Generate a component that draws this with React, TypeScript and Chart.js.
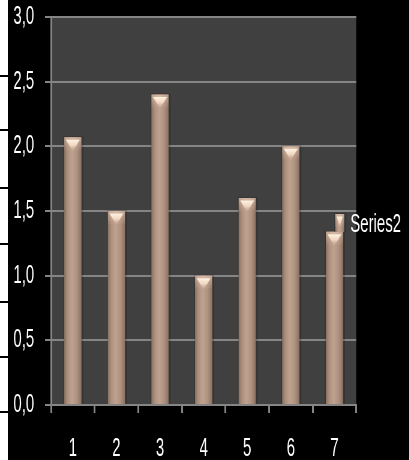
import React, { useEffect, useRef } from "react";
import { Chart, registerables } from "chart.js";

Chart.register(...registerables);

const categories = ["1", "2", "3", "4", "5", "6", "7"];
const series2 = [2.07, 1.5, 2.4, 1.0, 1.6, 2.0, 1.34];
const yTickLabels = ["0,0", "0,5", "1,0", "1,5", "2,0", "2,5", "3,0"];
const seriesName = "Series2";

// The reference uses a tall, narrow face; we draw in a wider canvas and squeeze it horizontally.
const SX = 0.6;
const VIEW_W = 409;
const VIEW_H = 460;
const CANVAS_W = Math.round(VIEW_W / SX);
const FONT_FAMILY = "'Liberation Sans', Arial, sans-serif";
const FONT_SIZE = 25;
const stripLines = [76, 130, 188, 244, 302, 357, 412];

function drawBar(ctx: CanvasRenderingContext2D, x: number, y: number, base: number, width: number) {
  const left = x - width / 2;
  const right = x + width / 2;
  const h = base - y;
  ctx.save();
  ctx.fillStyle = "rgba(0,0,0,0.18)";
  ctx.fillRect(left - 1.5, y - 1, width + 5, h + 1);
  const g = ctx.createLinearGradient(left, 0, right, 0);
  g.addColorStop(0, "#8a7162");
  g.addColorStop(0.2, "#ae927f");
  g.addColorStop(0.45, "#c0a290");
  g.addColorStop(0.75, "#ae917f");
  g.addColorStop(1, "#8b7263");
  ctx.fillStyle = g;
  ctx.fillRect(left, y, width, h);
  const capH = Math.min(14, h);
  const rim = ctx.createLinearGradient(0, y, 0, y + capH);
  rim.addColorStop(0, "rgba(235,205,185,0.55)");
  rim.addColorStop(1, "rgba(235,205,185,0)");
  ctx.fillStyle = rim;
  ctx.fillRect(left, y, width, capH);
  if (h > 6) {
    const tri = ctx.createLinearGradient(0, y + 2, 0, y + capH);
    tri.addColorStop(0, "#fff4e4");
    tri.addColorStop(0.5, "#f2d8c2");
    tri.addColorStop(1, "rgba(200,168,146,0.2)");
    ctx.fillStyle = tri;
    ctx.beginPath();
    ctx.moveTo(left + 2.5, y + 2.5);
    ctx.lineTo(right - 2.5, y + 2.5);
    ctx.lineTo(x, y + capH);
    ctx.closePath();
    ctx.fill();
  }
  ctx.restore();
}

const plotBgPlugin = {
  id: "plotBg",
  beforeDraw(chart: any) {
    const { ctx, chartArea, width, height } = chart;
    ctx.save();
    ctx.fillStyle = "#000000";
    ctx.fillRect(0, 0, width, height);
    ctx.fillStyle = "#404040";
    ctx.fillRect(chartArea.left, chartArea.top, chartArea.right - chartArea.left, chartArea.bottom - chartArea.top);
    ctx.restore();
  },
};

const barStylePlugin = {
  id: "barStyle",
  afterDatasetsDraw(chart: any) {
    const ctx = chart.ctx;
    const meta = chart.getDatasetMeta(0);
    meta.data.forEach((el: any) => {
      const p = el.getProps(["x", "y", "base", "width"], true);
      drawBar(ctx, p.x, p.y, p.base, p.width);
    });
  },
};

const customLegendPlugin = {
  id: "customLegend",
  afterDraw(chart: any) {
    const ctx = chart.ctx;
    const label = chart.data.datasets[0].label;
    const area = chart.chartArea;
    const cy = (area.top + area.bottom) / 2 + 14;
    const markerLeft = area.right - 21 / SX;
    const markerW = 9 / SX;
    ctx.save();
    drawBar(ctx, markerLeft + markerW / 2, cy - 11, cy + 7, markerW);
    ctx.fillStyle = "#ffffff";
    ctx.font = `${FONT_SIZE}px ${FONT_FAMILY}`;
    ctx.textBaseline = "middle";
    ctx.textAlign = "left";
    ctx.fillText(label, markerLeft + 15 / SX, cy);
    ctx.restore();
  },
};

export default function App() {
  const canvasRef = useRef<HTMLCanvasElement | null>(null);

  useEffect(() => {
    document.body.style.margin = "0";
    document.body.style.background = "#000";
    const canvas = canvasRef.current;
    if (!canvas) return;
    const chart = new Chart(canvas, {
      type: "bar",
      data: {
        labels: categories,
        datasets: [
          {
            label: seriesName,
            data: series2,
            backgroundColor: "#b09280",
            borderWidth: 0,
            barPercentage: 0.39,
            categoryPercentage: 1,
          },
        ],
      },
      options: {
        responsive: false,
        animation: false,
        devicePixelRatio: 1,
        layout: { padding: { left: 0, right: 53 / SX, top: 17, bottom: 0 } },
        plugins: {
          legend: { display: false },
          tooltip: { enabled: false },
        },
        scales: {
          x: {
            grid: {
              offset: true,
              drawOnChartArea: false,
              drawTicks: true,
              tickLength: 8,
              color: "#858585",
              lineWidth: 3,
            },
            border: { display: true, color: "#858585", width: 2 },
            ticks: {
              color: "#ffffff",
              font: { family: FONT_FAMILY, size: FONT_SIZE },
              padding: 21,
              maxRotation: 0,
            },
            afterFit(scale: any) {
              scale.height = 55;
              scale.paddingLeft = 0;
              scale.paddingRight = 0;
            },
          },
          y: {
            min: 0,
            max: 3,
            ticks: {
              stepSize: 0.5,
              color: "#ffffff",
              font: { family: FONT_FAMILY, size: FONT_SIZE },
              padding: 18,
              callback: (_v: any, i: number) => yTickLabels[i],
            },
            grid: {
              color: "#858585",
              lineWidth: 2,
              tickLength: 10,
            },
            border: { display: true, color: "#858585", width: 3 },
            afterFit(scale: any) {
              scale.width = 51 / SX;
              scale.paddingTop = 0;
              scale.paddingBottom = 0;
            },
          },
        },
      },
      plugins: [plotBgPlugin, barStylePlugin, customLegendPlugin],
    });
    return () => chart.destroy();
  }, []);

  return (
    <div style={{ position: "relative", width: VIEW_W, height: VIEW_H, background: "#000", overflow: "hidden" }}>
      <div style={{ width: CANVAS_W, height: VIEW_H, transform: `scaleX(${SX})`, transformOrigin: "0 0" }}>
        <canvas ref={canvasRef} width={CANVAS_W} height={VIEW_H} style={{ display: "block" }} />
      </div>
      <div style={{ position: "absolute", left: 0, top: 0, width: 8, height: VIEW_H, background: "#fff" }}>
        {stripLines.map((t) => (
          <div key={t} style={{ position: "absolute", left: 0, top: t - 1, width: 8, height: 2, background: "#000" }} />
        ))}
      </div>
    </div>
  );
}
